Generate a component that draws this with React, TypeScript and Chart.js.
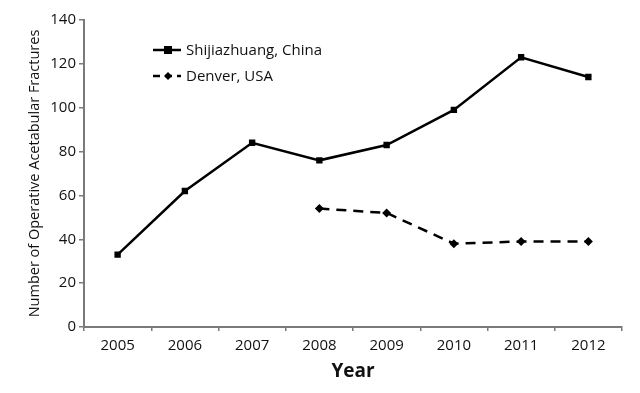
import React, { useEffect, useRef } from "react";
import { Chart, registerables } from "chart.js";

Chart.register(...registerables);

const years = ["2005", "2006", "2007", "2008", "2009", "2010", "2011", "2012"];
const shijiazhuang = [33, 62, 84, 76, 83, 99, 123, 114];
const denver = [null, null, null, 54, 52, 38, 39, 39];
const seriesNames = ["Shijiazhuang, China", "Denver, USA"];
const yTitle = "Number of Operative Acetabular Fractures";
const xTitle = "Year";

const FONT = "'Open Sans', sans-serif";
const AXIS_COLOR = "#7a7a7a";

const legendPlugin = {
  id: "insideLegend",
  afterDraw(chart: any) {
    const ctx = chart.ctx;
    ctx.save();
    const items = [
      { y: 50, dash: [] as number[], style: "rect", name: seriesNames[0] },
      { y: 76, dash: [7, 5], style: "diamond", name: seriesNames[1] },
    ];
    for (const it of items) {
      ctx.strokeStyle = "#000";
      ctx.lineWidth = 2.5;
      ctx.setLineDash(it.dash);
      ctx.beginPath();
      ctx.moveTo(153, it.y);
      ctx.lineTo(181, it.y);
      ctx.stroke();
      ctx.setLineDash([]);
      ctx.fillStyle = "#000";
      if (it.style === "rect") {
        ctx.fillRect(164, it.y - 4, 8, 8);
      } else {
        ctx.beginPath();
        ctx.moveTo(168, it.y - 4);
        ctx.lineTo(172, it.y);
        ctx.lineTo(168, it.y + 4);
        ctx.lineTo(164, it.y);
        ctx.closePath();
        ctx.fill();
      }
      ctx.font = `15px ${FONT}`;
      ctx.textBaseline = "middle";
      ctx.textAlign = "left";
      ctx.fillStyle = "#111";
      ctx.fillText(it.name, 186, it.y + 1);
    }
    ctx.restore();
  },
};

export default function App() {
  const ref = useRef<HTMLCanvasElement | null>(null);
  useEffect(() => {
    document.body.style.margin = "0";
    const chart = new Chart(ref.current!, {
      type: "line",
      data: {
        labels: years,
        datasets: [
          {
            label: seriesNames[0],
            data: shijiazhuang,
            borderColor: "#000",
            backgroundColor: "#000",
            borderWidth: 2.5,
            pointStyle: "rect",
            pointRadius: 4.5,
            pointBorderWidth: 0,
            tension: 0,
          },
          {
            label: seriesNames[1],
            data: denver,
            borderColor: "#000",
            backgroundColor: "#000",
            borderWidth: 2.5,
            borderDash: [10, 7],
            pointStyle: "rectRot",
            pointRadius: 4.5,
            pointBorderWidth: 0,
            tension: 0,
          },
        ],
      },
      options: {
        animation: false,
        responsive: false,
        layout: { padding: { left: 0, top: 20, right: 18, bottom: 0 } },
        plugins: { legend: { display: false }, tooltip: { enabled: false } },
        scales: {
          x: {
            offset: true,
            grid: {
              offset: true,
              drawOnChartArea: false,
              drawTicks: true,
              tickLength: 4,
              color: AXIS_COLOR,
              lineWidth: 1.5,
            },
            border: { color: AXIS_COLOR, width: 2 },
            ticks: { color: "#111", font: { family: FONT, size: 15 }, padding: 6, maxRotation: 0 },
            title: {
              display: true,
              text: xTitle,
              color: "#111",
              font: { family: FONT, size: 19, weight: "bold" },
              padding: { top: 0, bottom: 10 },
            },
            afterFit(scale: any) {
              scale.height = 66;
            },
          },
          y: {
            min: 0,
            max: 140,
            ticks: { stepSize: 20, color: "#111", font: { family: FONT, size: 15 }, padding: 3 },
            grid: {
              drawOnChartArea: false,
              drawTicks: true,
              tickLength: 5,
              color: AXIS_COLOR,
              lineWidth: 1.5,
            },
            border: { color: AXIS_COLOR, width: 2 },
            title: {
              display: true,
              text: yTitle,
              color: "#111",
              font: { family: FONT, size: 14.5 },
              padding: { top: 26, bottom: 0 },
            },
            afterFit(scale: any) {
              scale.width = 84;
            },
          },
        },
      },
      plugins: [legendPlugin],
    });
    return () => chart.destroy();
  }, []);
  return (
    <div style={{ position: "absolute", left: 0, top: 0, width: 640, height: 393, background: "#fff" }}>
      <canvas ref={ref} width={640} height={393} />
    </div>
  );
}
